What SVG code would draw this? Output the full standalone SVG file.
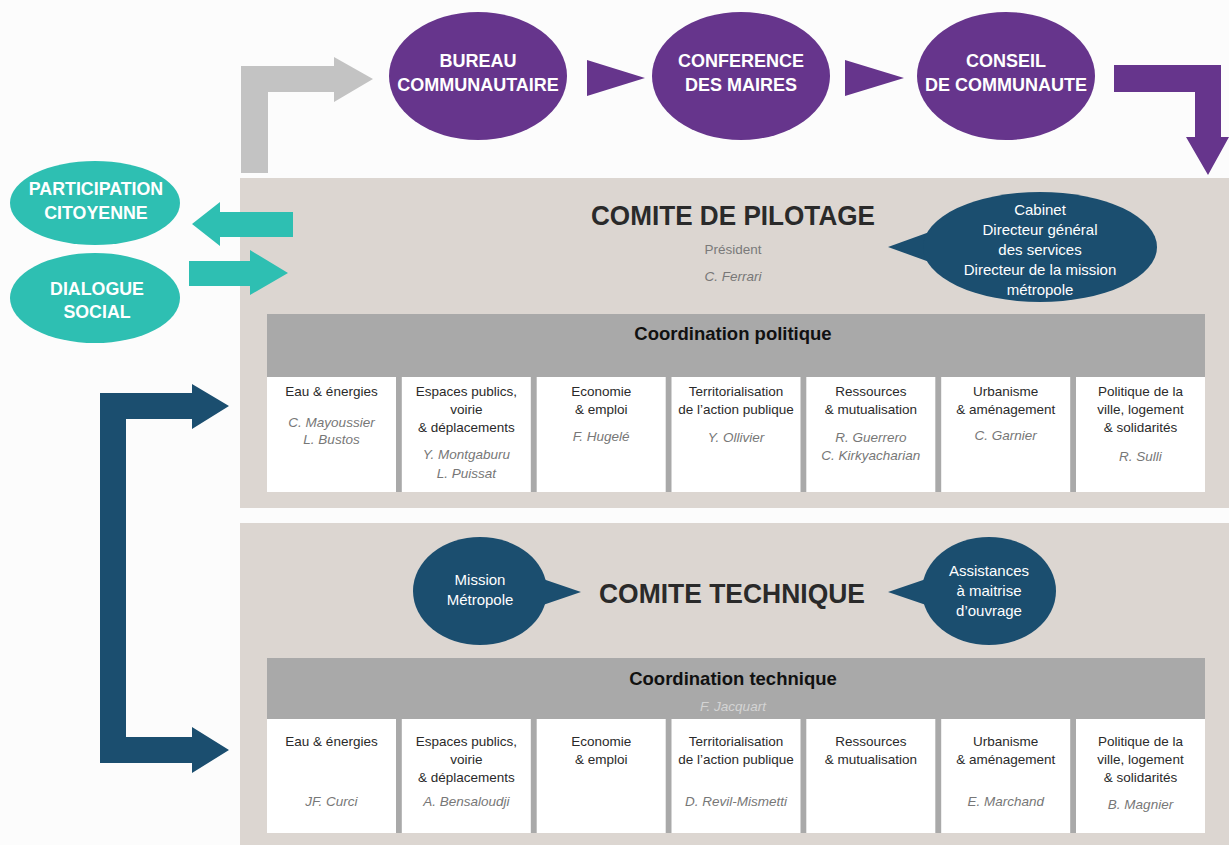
<svg xmlns="http://www.w3.org/2000/svg" width="1229" height="845" viewBox="0 0 1229 845">
<style>
.purple{fill:#66358c}
.teal{fill:#2ebfb2}
.navy{fill:#1b4e6f}
.garrow{fill:#c3c3c3}
.panel{fill:#dcd6d1}
.bar{fill:#a9a9a9}
.box{fill:#ffffff}
.wt{font-family:"Liberation Sans",Arial,sans-serif;font-weight:bold;fill:#ffffff;text-anchor:middle}
.bub{font-family:"Liberation Sans",Arial,sans-serif;font-size:15px;fill:#ffffff;text-anchor:middle}
.title{font-family:"Liberation Sans",Arial,sans-serif;font-weight:bold;font-size:28px;fill:#2a2a2a;text-anchor:middle}
.coord{font-family:"Liberation Sans",Arial,sans-serif;font-weight:bold;font-size:18.5px;fill:#111111;text-anchor:middle}
.bt{font-family:"Liberation Sans",Arial,sans-serif;font-size:13.5px;fill:#2a2a2a;text-anchor:middle}
.nm{font-family:"Liberation Sans",Arial,sans-serif;font-size:13.5px;font-style:italic;fill:#777777;text-anchor:middle}
.sub{font-family:"Liberation Sans",Arial,sans-serif;font-size:13.5px;fill:#7a7a7a;text-anchor:middle}
</style>
<rect width="1229" height="845" fill="#fcfcfc"/>

<g id="panel-pilotage">
<rect class="panel" x="240" y="178" width="989" height="330"/>
<text class="title" x="733" y="225" textLength="284" lengthAdjust="spacingAndGlyphs">COMITE DE PILOTAGE</text>
<text class="sub" x="733" y="254">Président</text>
<text class="nm" x="733" y="281">C. Ferrari</text>
</g>

<g id="panel-technique">
<rect class="panel" x="240" y="523" width="989" height="322"/>
<text class="title" x="732" y="603" textLength="266" lengthAdjust="spacingAndGlyphs">COMITE TECHNIQUE</text>
</g>

<g id="coord-politique">
<rect class="bar" x="267" y="314" width="938" height="178"/>
<text class="coord" x="733" y="340">Coordination politique</text>
<rect class="box" x="267" y="377" width="129" height="115"/>
<rect class="box" x="401.8" y="377" width="129" height="115"/>
<rect class="box" x="536.7" y="377" width="129" height="115"/>
<rect class="box" x="671.5" y="377" width="129" height="115"/>
<rect class="box" x="806.3" y="377" width="129" height="115"/>
<rect class="box" x="941.2" y="377" width="129" height="115"/>
<rect class="box" x="1076" y="377" width="129" height="115"/>
<text class="bt" x="331.5" y="396">Eau &amp; énergies</text>
<text class="nm" x="331.5" y="427">C. Mayoussier</text>
<text class="nm" x="331.5" y="444">L. Bustos</text>
<text class="bt" x="466.3" y="396">Espaces publics,</text>
<text class="bt" x="466.3" y="414">voirie</text>
<text class="bt" x="466.3" y="432">&amp; déplacements</text>
<text class="nm" x="466.3" y="459">Y. Montgaburu</text>
<text class="nm" x="466.3" y="478">L. Puissat</text>
<text class="bt" x="601.2" y="396">Economie</text>
<text class="bt" x="601.2" y="414">&amp; emploi</text>
<text class="nm" x="601.2" y="441">F. Hugelé</text>
<text class="bt" x="736" y="396">Territorialisation</text>
<text class="bt" x="736" y="414">de l’action publique</text>
<text class="nm" x="736" y="442">Y. Ollivier</text>
<text class="bt" x="870.8" y="396">Ressources</text>
<text class="bt" x="870.8" y="414">&amp; mutualisation</text>
<text class="nm" x="870.8" y="442">R. Guerrero</text>
<text class="nm" x="870.8" y="460">C. Kirkyacharian</text>
<text class="bt" x="1005.7" y="396">Urbanisme</text>
<text class="bt" x="1005.7" y="414">&amp; aménagement</text>
<text class="nm" x="1005.7" y="440">C. Garnier</text>
<text class="bt" x="1140.5" y="396">Politique de la</text>
<text class="bt" x="1140.5" y="414">ville, logement</text>
<text class="bt" x="1140.5" y="432">&amp; solidarités</text>
<text class="nm" x="1140.5" y="461">R. Sulli</text>
</g>

<g id="coord-technique">
<rect class="bar" x="267" y="658" width="938" height="175"/>
<text class="coord" x="733" y="685">Coordination technique</text>
<text class="nm" x="733" y="711" style="fill:#d4d4d4">F. Jacquart</text>
<rect class="box" x="267" y="719" width="129" height="114"/>
<rect class="box" x="401.8" y="719" width="129" height="114"/>
<rect class="box" x="536.7" y="719" width="129" height="114"/>
<rect class="box" x="671.5" y="719" width="129" height="114"/>
<rect class="box" x="806.3" y="719" width="129" height="114"/>
<rect class="box" x="941.2" y="719" width="129" height="114"/>
<rect class="box" x="1076" y="719" width="129" height="114"/>
<text class="bt" x="331.5" y="746">Eau &amp; énergies</text>
<text class="nm" x="331.5" y="806">JF. Curci</text>
<text class="bt" x="466.3" y="746">Espaces publics,</text>
<text class="bt" x="466.3" y="764">voirie</text>
<text class="bt" x="466.3" y="782">&amp; déplacements</text>
<text class="nm" x="466.3" y="806">A. Bensaloudji</text>
<text class="bt" x="601.2" y="746">Economie</text>
<text class="bt" x="601.2" y="764">&amp; emploi</text>
<text class="bt" x="736" y="746">Territorialisation</text>
<text class="bt" x="736" y="764">de l’action publique</text>
<text class="nm" x="736" y="806">D. Revil-Mismetti</text>
<text class="bt" x="870.8" y="746">Ressources</text>
<text class="bt" x="870.8" y="764">&amp; mutualisation</text>
<text class="bt" x="1005.7" y="746">Urbanisme</text>
<text class="bt" x="1005.7" y="764">&amp; aménagement</text>
<text class="nm" x="1005.7" y="806">E. Marchand</text>
<text class="bt" x="1140.5" y="746">Politique de la</text>
<text class="bt" x="1140.5" y="764">ville, logement</text>
<text class="bt" x="1140.5" y="782">&amp; solidarités</text>
<text class="nm" x="1140.5" y="809">B. Magnier</text>
</g>

<g id="bureau">
<ellipse class="purple" cx="478" cy="76" rx="89" ry="64"/>
<text class="wt" x="478" y="67" font-size="18">BUREAU</text>
<text class="wt" x="478" y="91" font-size="18">COMMUNAUTAIRE</text>
</g>
<g id="conference">
<ellipse class="purple" cx="741" cy="76" rx="89" ry="64"/>
<text class="wt" x="741" y="67" font-size="18">CONFERENCE</text>
<text class="wt" x="741" y="91" font-size="18">DES MAIRES</text>
</g>
<g id="conseil">
<ellipse class="purple" cx="1006" cy="76" rx="89" ry="64"/>
<text class="wt" x="1006" y="67" font-size="18">CONSEIL</text>
<text class="wt" x="1006" y="91" font-size="18">DE COMMUNAUTE</text>
</g>

<g id="participation">
<ellipse class="teal" cx="95" cy="203" rx="85" ry="42"/>
<text class="wt" x="96" y="195" font-size="17.8">PARTICIPATION</text>
<text class="wt" x="96" y="219" font-size="17.8">CITOYENNE</text>
</g>
<g id="dialogue">
<ellipse class="teal" cx="95" cy="298" rx="85" ry="45"/>
<text class="wt" x="97" y="295" font-size="17.8">DIALOGUE</text>
<text class="wt" x="97" y="318" font-size="17.8">SOCIAL</text>
</g>

<g id="cabinet">
<polygon class="navy" points="935,230 888,247 935,264"/>
<ellipse class="navy" cx="1040" cy="247" rx="117" ry="55"/>
<text class="bub" x="1040" y="215">Cabinet</text>
<text class="bub" x="1040" y="235">Directeur général</text>
<text class="bub" x="1040" y="255">des services</text>
<text class="bub" x="1040" y="275">Directeur de la mission</text>
<text class="bub" x="1040" y="295">métropole</text>
</g>
<g id="mission">
<ellipse class="navy" cx="480" cy="591" rx="67" ry="54"/>
<polygon class="navy" points="540,578 581,592 540,606"/>
<text class="bub" x="480" y="585">Mission</text>
<text class="bub" x="480" y="605">Métropole</text>
</g>
<g id="assistances">
<ellipse class="navy" cx="989" cy="591" rx="67" ry="54"/>
<polygon class="navy" points="929,578 888,592 929,606"/>
<text class="bub" x="989" y="576">Assistances</text>
<text class="bub" x="989" y="596">à maitrise</text>
<text class="bub" x="989" y="616">d’ouvrage</text>
</g>

<g id="connectors">
<polygon class="garrow" points="241,173 241,66 334,66 334,57 373,79 334,102 334,92 268,92 268,173"/>
<polygon class="purple" points="587,60 645,78 587,96"/>
<polygon class="purple" points="845,60 904,78 845,96"/>
<polygon class="purple" points="1114,65 1221,65 1221,137 1229,137 1208,175 1186,137 1195,137 1195,92 1114,92"/>
<polygon class="teal" points="293,212 220,212 220,202 192,224 220,246 220,237 293,237"/>
<polygon class="teal" points="189,261 250,261 250,250 288,273 250,295 250,286 189,286"/>
<polygon class="navy" points="100,393 192,393 192,384 229,406 192,429 192,419 126,419 126,737 192,737 192,727 229,750 192,773 192,763 100,763"/>
</g>
</svg>
